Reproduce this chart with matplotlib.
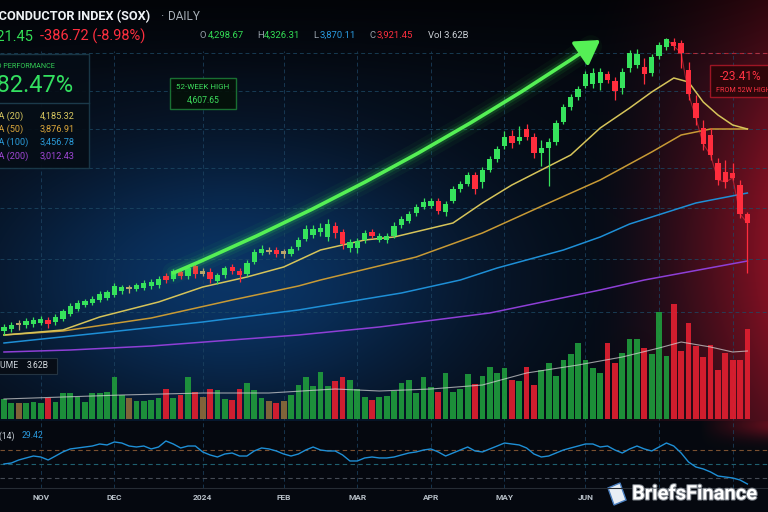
import numpy as np
import matplotlib.pyplot as plt
import matplotlib.patheffects as pe
from matplotlib.patches import Rectangle, FancyArrowPatch, Polygon
from matplotlib.lines import Line2D
from matplotlib.transforms import blended_transform_factory

plt.rcParams['font.family'] = ['Roboto', 'DejaVu Sans']

# ---- daily candles (index points) ----
opens = [2557, 2571, 2613, 2599, 2606, 2613, 2634, 2620, 2641, 2676,
         2711, 2739, 2753, 2774, 2788, 2809, 2837, 2865, 2851, 2858,
         2872, 2879, 2942, 2921, 2970, 2942, 3012, 2956, 2970, 2907,
         2949, 3005, 2977, 2956, 3040, 3103, 3110, 3124, 3117, 3096,
         3145, 3201, 3229, 3250, 3215, 3292, 3250, 3138, 3138, 3194,
         3250, 3194, 3194, 3222, 3299, 3327, 3383, 3425, 3432, 3467,
         3390, 3467, 3551, 3586, 3649, 3600, 3684, 3761, 3852, 3922,
         3887, 3971, 3915, 3803, 3838, 3880, 4020, 4125, 4195, 4272,
         4286, 4293, 4356, 4307, 4258, 4398, 4419, 4405, 4363, 4482,
         4545, 4580, 4573, 4384, 4153, 3978, 3929, 3733, 3670, 3663,
         3579, 3376]
closes = [2585, 2599, 2599, 2627, 2634, 2641, 2606, 2655, 2697, 2732,
          2753, 2767, 2781, 2816, 2830, 2872, 2865, 2851, 2879, 2893,
          2900, 2921, 2914, 2977, 2942, 2998, 2956, 2977, 2921, 2949,
          2998, 2977, 2949, 3033, 3110, 3131, 3124, 3096, 3096, 3131,
          3194, 3271, 3271, 3278, 3306, 3243, 3166, 3180, 3187, 3243,
          3222, 3222, 3222, 3292, 3341, 3376, 3425, 3460, 3467, 3397,
          3446, 3551, 3586, 3649, 3551, 3684, 3761, 3831, 3915, 3873,
          3915, 3915, 3803, 3838, 3880, 4013, 4125, 4195, 4251, 4356,
          4363, 4370, 4314, 4237, 4370, 4503, 4496, 4356, 4475, 4559,
          4600, 4552, 4503, 4216, 4048, 3866, 3789, 3614, 3600, 3628,
          3376, 3313]
highs = [2606, 2620, 2634, 2648, 2655, 2662, 2655, 2676, 2711, 2753,
         2774, 2781, 2802, 2837, 2844, 2893, 2879, 2879, 2893, 2914,
         2921, 2942, 2963, 2991, 2984, 3012, 3040, 2998, 2998, 2963,
         3012, 3026, 2998, 3054, 3131, 3159, 3145, 3145, 3131, 3152,
         3215, 3299, 3299, 3313, 3341, 3320, 3271, 3201, 3208, 3264,
         3271, 3243, 3243, 3320, 3362, 3397, 3446, 3488, 3488, 3488,
         3467, 3572, 3607, 3670, 3670, 3705, 3782, 3852, 3957, 3964,
         3992, 4006, 3943, 3894, 3908, 4034, 4146, 4216, 4272, 4377,
         4398, 4398, 4377, 4335, 4398, 4524, 4531, 4468, 4496, 4580,
         4607.65, 4607.65, 4594, 4440, 4209, 4034, 3978, 3768, 3754, 3733,
         3614, 3390]
lows = [2529, 2550, 2564, 2578, 2585, 2599, 2578, 2599, 2627, 2662,
        2697, 2725, 2739, 2760, 2774, 2795, 2816, 2823, 2837, 2844,
        2851, 2858, 2893, 2907, 2921, 2921, 2928, 2942, 2893, 2886,
        2928, 2956, 2900, 2942, 3026, 3089, 3096, 3075, 3068, 3082,
        3124, 3187, 3208, 3222, 3187, 3208, 3131, 3110, 3103, 3173,
        3208, 3180, 3173, 3208, 3278, 3313, 3362, 3411, 3418, 3376,
        3362, 3453, 3530, 3572, 3516, 3558, 3670, 3740, 3831, 3838,
        3866, 3894, 3768, 3712, 3572, 3859, 4006, 4104, 4174, 4258,
        4258, 4244, 4293, 4174, 4216, 4370, 4398, 4286, 4342, 4461,
        4524, 4524, 4398, 4174, 3999, 3824, 3754, 3579, 3558, 3614,
        3348, 2963]

# volume in billions
volumes = [0.80, 0.64, 0.64, 0.64, 0.68, 0.64, 0.84, 0.68, 1.04, 1.04,
           0.88, 0.68, 1.04, 1.04, 1.08, 1.68, 0.96, 0.84, 0.72, 0.72,
           0.76, 0.84, 1.20, 0.84, 0.96, 1.68, 1.08, 0.88, 1.20, 1.16,
           0.80, 0.76, 1.20, 1.44, 1.16, 0.84, 0.72, 0.64, 0.72, 0.96,
           1.36, 1.68, 1.32, 1.88, 1.32, 1.52, 1.68, 1.56, 1.20, 0.88,
           0.76, 0.88, 0.92, 1.12, 1.44, 1.56, 1.04, 1.68, 1.28, 1.08,
           1.84, 1.08, 1.20, 1.80, 1.40, 1.72, 2.08, 1.84, 2.04, 1.56,
           1.52, 2.08, 1.36, 1.96, 2.24, 1.72, 2.36, 2.60, 3.04, 2.36,
           2.04, 1.84, 3.04, 2.24, 2.64, 3.20, 3.20, 2.84, 2.60, 4.28,
           2.52, 4.60, 2.72, 3.84, 2.92, 2.48, 2.96, 1.96, 2.64, 2.36,
           2.36, 3.62]
vol_ma_idx = [0, 16, 27, 36, 45, 51, 58, 65, 71, 78, 84, 89, 92, 96, 99, 101]
vol_ma = [0.80, 0.96, 1.04, 1.04, 1.20, 1.12, 1.20, 1.36, 1.84, 2.16,
          2.48, 2.84, 3.08, 2.88, 2.68, 2.72]

rsi = [50.0, 51.4, 55.7, 58.6, 61.4, 60.0, 55.7, 61.4, 67.2, 71.5,
       72.9, 74.3, 75.7, 78.6, 77.2, 81.5, 80.0, 75.7, 74.3, 75.7,
       71.5, 74.3, 82.9, 78.6, 72.9, 75.7, 75.7, 67.2, 62.9, 60.0,
       64.3, 65.7, 61.4, 61.4, 68.6, 72.9, 71.5, 68.6, 64.3, 61.4,
       64.3, 70.0, 74.3, 70.0, 68.6, 68.6, 62.9, 54.3, 54.3, 58.6,
       60.0, 58.6, 58.6, 60.0, 62.9, 65.7, 67.2, 70.0, 71.5, 67.2,
       61.4, 65.7, 70.0, 74.3, 68.6, 67.2, 71.5, 75.7, 80.0, 78.6,
       77.2, 72.9, 64.3, 60.0, 61.4, 65.7, 70.0, 72.9, 75.7, 78.6,
       78.6, 74.3, 75.7, 70.0, 65.7, 71.5, 75.7, 71.5, 68.6, 74.3,
       80.0, 75.7, 65.7, 52.9, 45.7, 42.9, 38.6, 32.8, 31.4, 30.0,
       27.1, 21.4]

# moving averages sampled along the drawn curves
sma20_idx = [0, 8, 13, 21, 27, 33, 38, 43, 49, 53, 61, 65, 69, 73, 77,
             81, 85, 88, 91, 93, 95, 97, 99, 101]
sma20 = [2529, 2564, 2655, 2760, 2865, 2935, 3005, 3124, 3194, 3215,
         3313, 3453, 3579, 3684, 3789, 3978, 4118, 4230, 4328, 4300,
         4160, 4069, 3999, 3971]
sma50_idx = [0, 8, 20, 31, 40, 43, 56, 65, 74, 81, 88, 92, 96, 101]
sma50 = [2529, 2557, 2648, 2774, 2872, 2914, 3075, 3243, 3453, 3614,
         3810, 3929, 3971, 3971]
sma100_idx = [0, 13, 27, 40, 54, 62, 67, 76, 81, 85, 94, 101]
sma100 = [2473, 2543, 2620, 2704, 2823, 2914, 2998, 3124, 3215, 3306,
          3453, 3523]
sma200_idx = [0, 9, 20, 40, 51, 66, 81, 87, 101]
sma200 = [2410, 2424, 2452, 2529, 2585, 2683, 2844, 2914, 3047]

# month starts (JUL/AUG labels sit under the watermark)
month_idx = [5, 15, 27, 38, 48, 58, 68, 79, 89, 99]
month_labels = ['NOV', 'DEC', '2024', 'FEB', 'MAR', 'APR', 'MAY', 'JUN']
grid_prices = [4500, 4240, 3970, 3700, 3420, 3060, 2690]

sma_rows = [('SMA (20)', '4,185.32'), ('SMA (50)', '3,876.91'),
            ('SMA (100)', '3,456.78'), ('SMA (200)', '3,012.43')]

W, H = 768, 512
fig = plt.figure(figsize=(7.68, 5.12), dpi=100)
fig.patch.set_facecolor('#05090f')


def fy(y):
    return 1 - y / H


def tx(x, y, s, **kw):
    kw.setdefault('va', 'center')
    return fig.text(x / W, fy(y), s, **kw)


# background glow
yy, xx = np.mgrid[0:H, 0:W].astype(float)
bg = np.zeros((H, W, 3))
bg[:] = [0.02, 0.035, 0.065]
blue = np.exp(-((xx - 230) / 240) ** 2 - ((yy - 280) / 140) ** 2)
bg += blue[..., None] * np.array([0.02, 0.17, 0.33])
bg *= (0.45 + 0.55 * np.clip(yy / 80, 0, 1))[..., None]
red = np.clip((xx - 590) / 178, 0, 1) ** 1.5 * np.exp(-((yy - 250) / 240) ** 2)
bg += red[..., None] * np.array([0.50, 0.03, 0.07])
low = yy >= 421
bg[low] = [0.02, 0.035, 0.06]
spill = np.clip((xx - 700) / 68, 0, 1) * np.exp(-((yy - 424) / 14) ** 2) * low
bg += spill[..., None] * np.array([0.35, 0.02, 0.05])
bax = fig.add_axes([0, 0, 1, 1])
bax.imshow(np.clip(bg, 0, 1), extent=[0, W, H, 0], aspect='auto')
bax.axis('off')

XL = (-0.54, 103.8)

# ---- price panel ----
ax = fig.add_axes([0, 0, 1, 1], facecolor='none')
ax.set_xlim(*XL)
ax.set_ylim(1290, 4874)
ax.axis('off')

ax.hlines(grid_prices, XL[0], XL[1], color='#1d4a66', lw=0.7,
          linestyles=(0, (4, 3)), alpha=0.75, zorder=1)
for m in month_idx:
    ax.axvline(m, ymin=0.047, ymax=0.9, color='#1d4462', lw=0.7,
               ls=(0, (4, 3)), alpha=0.75, zorder=1)

ax.plot(sma200_idx, sma200, color='#8e3fd6', lw=1.1, zorder=2)
ax.plot(sma100_idx, sma100, color='#1e8fd6', lw=1.1, zorder=2)
ax.plot(sma50_idx, sma50, color='#c89a35', lw=1.1, zorder=2)
ax.plot(sma20_idx, sma20, color='#d6c45a', lw=1.1, zorder=2)

idx = np.arange(len(closes))
o = np.array(opens, float)
c = np.array(closes, float)
small = np.abs(c - o) < 22
col = np.where(small, '#b9a46a', np.where(c >= o, '#36e25c', '#ff2d3d'))
ax.vlines(idx, lows, highs, colors=col, lw=0.9, zorder=4)
ax.bar(idx, np.maximum(np.abs(c - o), 10), bottom=np.minimum(o, c),
       width=0.72, color=col, zorder=5)
ax.plot(idx[90:], c[90:], color='#ff3040', lw=0.8, alpha=0.55, zorder=3)
ax.hlines(4503, 91.5, XL[1], color='#ff3040', lw=0.8,
          linestyles=(0, (4, 3)), alpha=0.6, zorder=3)

# trend arrow with glow
start, end = (23, 2963), (81, 4594)
for lw, a in [(16, 0.04), (10, 0.07), (6, 0.14)]:
    ax.add_patch(FancyArrowPatch(start, end, arrowstyle='-',
                                 connectionstyle='arc3,rad=0.05',
                                 color='#3cff50', lw=lw, alpha=a,
                                 shrinkA=0, shrinkB=8, zorder=6))
ax.add_patch(FancyArrowPatch(start, end,
                             arrowstyle='-|>,head_length=0.9,head_width=0.55',
                             mutation_scale=16, connectionstyle='arc3,rad=0.05',
                             color='#55f055', lw=2.6, shrinkA=0, shrinkB=0,
                             zorder=7))

# ---- volume panel ----
vax = fig.add_axes([0, fy(419), 1, 119 / H], facecolor='none')
vax.set_xlim(*XL)
vax.set_ylim(0, 4.76)
vax.axis('off')
vcol = np.where(small, '#8a6a3a', np.where(c >= o, '#1f9a3c', '#e01f30'))
vax.bar(idx, volumes, width=0.78, color=vcol, alpha=0.92, zorder=3)
vax.plot(vol_ma_idx, vol_ma, color='#d9d9d9', lw=0.8, alpha=0.7, zorder=4)

# ---- RSI panel ----
rax = fig.add_axes([0, fy(490), 1, 60 / H], facecolor='none')
rax.set_xlim(*XL)
rax.set_ylim(12.8, 98.6)
rax.axis('off')
rax.axhline(70, color='#7a5030', lw=0.8, ls=(0, (4, 3)))
rax.axhline(50, color='#1f6070', lw=0.8, ls=(0, (4, 3)))
rax.axhline(30, color='#454b55', lw=0.8, ls=(0, (4, 3)))
rax.plot(idx, rsi, color='#1e8fd6', lw=1.0)

fig.add_artist(Line2D([0, 1], [fy(488), fy(488)], color='#262c34', lw=0.8))

# month labels
trans = blended_transform_factory(ax.transData, fig.transFigure)
for m, lab in zip(month_idx, month_labels):
    ax.text(m, fy(497), lab, transform=trans, ha='center', va='center',
            color='#b8c0c8', fontsize=6, fontweight='bold', zorder=8)

# ---- header ----
tx(150, 17, 'SEMICONDUCTOR INDEX (SOX)', ha='right', size=9.2,
   weight='bold', color='#eef2f5')
tx(160, 17, '·', color='#9aa3ad', size=9)
tx(168, 17, 'DAILY', color='#a8b0b8', size=8.5)
tx(33, 36, '3,921.45', ha='right', color='#33dd55', size=10.5)
tx(40, 36, '-386.72 (-8.98%)', color='#ff2f3f', size=10.5)
ohlc = [(200, 'O', '#9aa3ad'), (208, '4,298.67', '#33dd55'),
        (257, 'H', '#9aa3ad'), (264, '4,326.31', '#33dd55'),
        (313, 'L', '#9aa3ad'), (320, '3,870.11', '#2a9be0'),
        (370, 'C', '#9aa3ad'), (377, '3,921.45', '#ff2f3f'),
        (428, 'Vol 3.62B', '#c9ced4')]
for x, s, cl in ohlc:
    tx(x, 35, s, color=cl, size=6.8)

# performance box
fig.add_artist(Rectangle((-5 / W, fy(168)), 94 / W, 114 / H,
                         transform=fig.transFigure, facecolor='#050d16',
                         edgecolor='#1b3a4a', lw=1, alpha=0.92))
fig.add_artist(Line2D([0, 89 / W], [fy(103), fy(103)], color='#1b3a4a', lw=1))
tx(55, 66, 'YTD PERFORMANCE', ha='right', color='#33cc55', size=5.2)
tx(73, 85, '+182.47%', ha='right', color='#33e060', size=17)
row_cols = ['#d8c860', '#d9a53a', '#2a9ad8', '#a046d6']
for k, ((lab, val), cl) in enumerate(zip(sma_rows, row_cols)):
    y = 116 + 13.3 * k
    tx(23 if k < 2 else 28, y, lab, ha='right', color=cl, size=6.6)
    tx(40, y, val, color=cl, size=6.6)

# 52-week high box
fig.add_artist(Rectangle((170 / W, fy(109)), 66 / W, 31 / H,
                         transform=fig.transFigure, facecolor='#041008',
                         edgecolor='#1c7a36', lw=1, alpha=0.9))
tx(203, 87, '52-WEEK HIGH', ha='center', color='#3ddc5c', size=5.8)
tx(203, 100, '4,607.65', ha='center', color='#3ddc5c', size=6.2)

# drawdown box
fig.add_artist(Rectangle((710 / W, fy(97)), 70 / W, 32 / H,
                         transform=fig.transFigure, facecolor='#2a0508',
                         edgecolor='#b01828', lw=1, alpha=0.85))
tx(720, 77, '-23.41%', color='#ff3343', size=8.6)
tx(716, 90, 'FROM 52W HIGH', color='#ff3343', size=5.2)

# panel labels
fig.add_artist(Rectangle((-5 / W, fy(374)), 62 / W, 16 / H,
                         transform=fig.transFigure, facecolor='#070d16',
                         edgecolor='#243442', lw=0.8))
tx(19, 366, 'VOLUME', ha='right', color='#c8d0d8', size=6.2)
tx(27, 366, '3.62B', color='#d8dde2', size=6.2)
tx(15, 436, 'RSI (14)', ha='right', color='#c8d0d8', size=6.2)
tx(22, 436, '29.42', color='#2a9be0', size=6.2)

# watermark
fig.add_artist(Polygon([(608 / W, fy(488)), (620 / W, fy(483)),
                        (626 / W, fy(500)), (614 / W, fy(505))],
                       closed=True, transform=fig.transFigure,
                       facecolor='#e8eef5', edgecolor='#4a7fc0', lw=1))
tx(632, 494, 'BriefsFinance', color='white', size=14.5, weight='bold',
   path_effects=[pe.withStroke(linewidth=1.5, foreground='#7a8088')])

fig.savefig('out.png', dpi=100, facecolor=fig.get_facecolor())
